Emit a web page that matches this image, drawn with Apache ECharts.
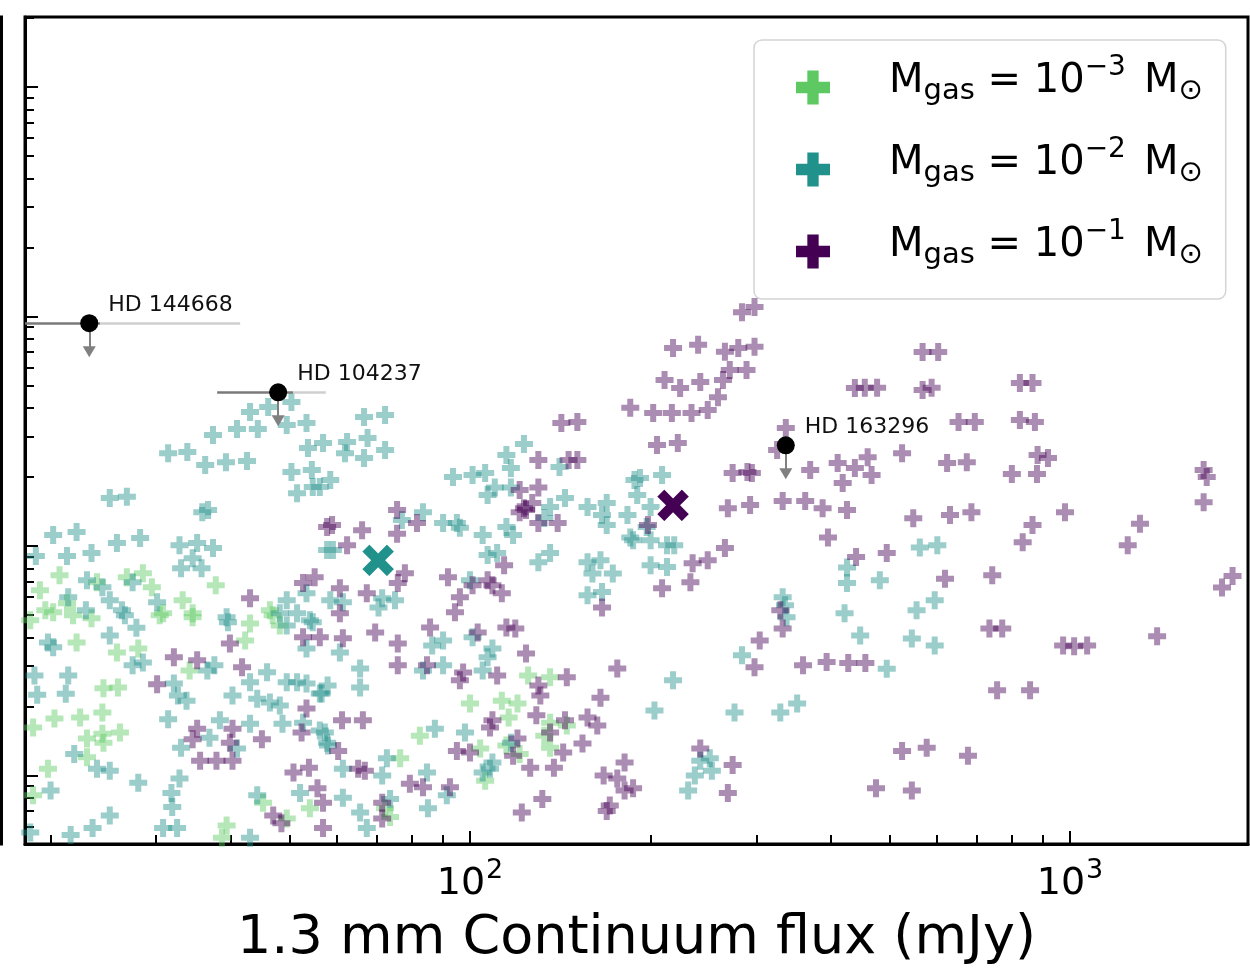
<!DOCTYPE html>
<html>
<head>
<meta charset="utf-8">
<title>Gas mass vs 1.3 mm continuum flux</title>
<script src="https://cdn.jsdelivr.net/npm/echarts@6/dist/echarts.min.js"></script>
<style>
  html, body { margin: 0; padding: 0; background: #fff; }
  #chart { width: 1250px; height: 974px; }
</style>
</head>
<body>
<div id="chart"></div>
<script>
// ---- data ----
const seriesNames = ['Mgas 1e-3', 'Mgas 1e-2', 'Mgas 1e-1'];
const legendExps = ['\u22123', '\u22122', '\u22121'];
const seriesColors = ['#5ec962', '#21918c', '#440154'];

const xMajorTicks = [100, 1000];
const xMinorTicks = [20, 30, 40, 50, 60, 70, 80, 90, 200, 300, 400, 500, 600, 700, 800, 900];
const yMajorTicks = [100, 1000, 10000, 100000];
const yMinorTicks = [60, 70, 80, 90, 200, 300, 400, 500, 600, 700, 800, 900,
  2000, 3000, 4000, 5000, 6000, 7000, 8000, 9000,
  20000, 30000, 40000, 50000, 60000, 70000, 80000, 90000, 200000];

// Mgas = 1e-3 Msun models  [flux mJy, y]
const greenPts = [
  [19.2,642],[23.9,696],[26.8,731],[28.5,761],[29.5,662],[21.3,563],[19.6,525],[30.8,509],[33.2,580],[34.5,509],
  [46.4,525],[20.2,515],[21.8,499],[23.4,485],[30.4,499],[34.5,490],[43.0,460],[46.9,499],[22.1,380],[25.8,344],
  [28.0,358],[34.1,287],[24.5,240],[25.9,242],[18.7,162],[20.3,177],[22.4,179],[24.4,188],[24.4,152],[26.1,154],
  [23.0,145],[24.5,139],[23.0,120],[19.8,107],[18.7,82],[39.3,60.5],[38.6,53.6],[45.2,76],[49.5,65],[54.1,72],
  [125,273],[136,268],[100,206],[113,212],[120,206],[116,179],[82.5,149],[136,170],[145,165],[104,131],
  [115,135],[136,132],[76.5,119],[106,95],[72.2,72],[73.6,66],[18.5,475],[48.2,451],[37.7,675],[20.7,746],
  [42.2,388],[121,124],[133,149]
];

// Mgas = 1e-2 Msun models
const tealPts = [
  [43.0,3840],[46.1,4036],[50.4,4240],[40.9,3236],[44.3,3236],[49.5,3369],[53.4,3440],[37.3,3047],[31.4,2540],[33.8,2570],
  [36.2,2254],[39.2,2320],[42.5,2345],[53.7,2675],[56.9,2810],[50.4,2100],[54.5,2144],[51.5,1700],[54.7,1810],[25.1,1620],
  [26.8,1640],[35.8,1405],[36.6,1434],[20.2,1116],[22.1,1150],[25.8,1030],[28.2,1083],[32.8,1009],[35.1,1030],[37.3,980],
  [34.5,885],[33.0,800],[35.7,800],[18.9,904],[21.3,904],[23.4,932],[57.8,960],
  [62.4,2840],[67.5,2960],[72.2,2621],[61.9,2540],[66.6,2420],[66.6,3650],[72.2,3725],[58.5,1939],[56.2,1810],
  [23.0,710],[24.4,662],[27.4,696],[21.4,598],[25.1,580],[22.9,525],[30.1,569],[26.3,525],[49.5,580],[48.2,509],
  [53.4,622],[51.5,509],[39.3,490],[25.1,408],[27.8,441],[26.6,499],[39.5,465],[49.5,451],[54.7,465],[20.2,362],
  [19.8,380],[28.5,311],[27.4,302],[37.5,302],[36.5,287],[45.9,282],[53.4,358],[54.1,475],[18.8,273],[21.4,273],
  [21.2,227],[19.0,225],[32.1,252],[33.7,212],[32.6,223],[40.2,223],[43.0,255],[44.2,216],[46.4,208],[49.5,255],
  [51.5,255],[53.4,252],[56.2,228],[48.2,202],[31.4,176],[38.3,174],[36.8,146],[43.0,168],[48.7,168],[52.7,170],
  [56.2,157],[57.8,139],[33.0,132],[40.9,131],[21.9,124],[23.9,107],[25.1,105],[20.0,86],[28.0,93],[32.8,97],
  [31.8,84],[31.9,73],[25.1,67],[23.5,59],[21.6,55],[18.5,56.5],[30.8,59],[32.5,59],[43.0,53.6],[44.2,82],[52.1,84],
  [123,2785],[115,2492],[141,2210],[93.7,2000],[101,2039],[106,2080],[117,2190],[107,1667],[110,1800],[117,1800],
  [144,1620],[136,1478],[133,1325],[157,1478],[169,1540],[166,1364],[183,1364],[169,1234],[187,1061],[188,1939],
  [83.5,1405],[77.0,1297],[90.2,1260],[95.1,1260],[96.2,1200],[105,1116],[115,1210],[118,1116],[59.1,960],[107,913],
  [111,932],[136,932],[130,850],[157,850],[165,868],[173,760],[160,760],[100,710],[157,610],[166,630],
  [61.4,569],[58.5,580],[71.4,592],[75.0,580],[70.4,540],[60.7,344],[86.5,369],[90.2,388],[101,400],[109,358],
  [107,328],[65.6,293],[83.5,287],[90.2,302],[105,287],[65.6,242],[57.9,247],[56.6,228],[87.4,160],[98.1,154],
  [57.3,154],[58.0,135],[117,139],[72.7,119],[109,114],[108,107],[105,103],[61.4,107],[71.4,100],[84.8,103],
  [91.5,82],[61.4,80],[65.6,69],[73.6,79],[67.3,59],[85.1,72],
  [192,1980],[209,2039],[190,1667],[200,1478],[197,1210],[185,1090],[200,1061],[213,1009],[219,1009],[200,825],[213,810],
  [335,552],[337,490],[421,509],[447,408],[545,395],[595,369],[555,525],[595,580],[425,807],[425,690],
  [482,710],[562,985],[601,1009],[332,598],[495,292],[284,334],[218,260],[203,192],[276,188],[329,188],
  [351,206],[242,116],[251,119],[237,100],[253,105],[231,86]
];

// Mgas = 1e-1 Msun models
const purplePts = [
  [43.0,592],[52.7,690],[55.1,731],[57.8,1210],[39.8,376],[32.1,328],[35.1,318],[41.7,296],[52.7,400],[56.2,400],
  [30.1,250],[35.1,160],[34.5,144],[40.2,160],[39.8,139],[45.0,144],[53.4,196],[52.4,154],[35.5,116],[37.8,116],
  [40.2,116],[50.8,103],[53.9,108],[47.0,67],[48.5,62],[55.7,88],[56.9,76],[56.9,59],
  [185,4000],[142,3440],[151,3475],[130,2370],[146,2370],[151,2370],[121,1754],[123,1460],[130,1800],[121,1405],
  [140,1260],[130,1260],[75.6,1434],[81.6,1260],[58.9,1234],[66.1,1173],[62.4,1009],[75.6,1130],[91.9,731],[114,825],
  [107,710],[101,675],[109,675],[113,622],[96.2,598],[166,540],[77.9,761],[75.8,690],[60.7,655],[67.3,622],
  [60.7,509],[94.4,515],[69.5,420],[61.4,396],[75.8,376],[85.8,442],[103,420],[115,442],[119,437],[124,340],
  [75.8,302],[84.8,302],[97.4,281],[96.2,260],[111,273],[145,268],[130,247],[131,223],[165,218],[176,293],
  [61.2,174],[66.3,174],[109,174],[108,162],[129,183],[144,174],[157,179],[163,165],[136,154],[60.3,128],
  [95.1,128],[100,126],[120,145],[118,122],[143,126],[154,138],[138,108],[126,108],[181,114],[167,100],
  [176,97],[187,88],[65.1,107],[66.8,105],[79.4,92],[83.5,89],[92.6,89],[71.4,76],[71.4,65],[132,79],
  [122,69],[169,70],
  [284,10440],[298,11000],[218,7300],[240,7530],[266,7020],[280,7300],[298,7380],[211,5295],[224,4880],[242,5190],
  [264,5295],[271,5855],[289,5855],[202,3800],[217,3800],[234,3800],[249,3917],[259,4450],[205,2756],[222,2810],
  [274,2080],[290,2100],[269,1460],[293,1508],[325,2621],[235,842],[249,868],[266,980],[209,655],[233,696],
  [198,1234],[127,1540],[124,1434],
  [568,7000],[603,7000],[438,4880],[455,4900],[477,4900],[568,4789],[588,4890],[825,5140],[866,5140],[825,3543],
  [874,3475],[652,3475],[694,3475],[336,3270],[525,2540],[369,2144],[410,2300],[438,2190],[460,2440],[467,2039],
  [418,1880],[624,2300],[673,2320],[800,2060],[881,2060],[883,2492],[919,2420],[295,2080],[1670,2144],[1690,2000],
  [1670,1550],[332,1570],[362,1570],[387,1460],[425,1434],[548,1320],[631,1364],[685,1405],[981,1405],[1308,1250],
  [1248,1009],[866,1234],[834,1040],[395,1090],[495,932],[440,895],[619,720],[742,746],[1866,740],[1792,660],
  [734,437],[771,437],[974,369],[1016,366],[1068,369],[1397,404],[756,235],[858,235],[525,128],[577,132],
  [676,122],[475,88],[545,86],[393,312],[427,309],[456,309],[359,302],[329,525],[332,437],[304,388],
  [242,131],[269,84],[171,74],[181,86],[274,111],[298,296]
];

// medians of the 1e-2 and 1e-1 model sets
const medianFlux = [70.3, 218];
const medianY = [866, 1504];
const medianColors = ['#21918c', '#440154'];

// observed sources (upper limits)
const hdNames = ['HD 144668', 'HD 104237', 'HD 163296'];
const hdFlux = [23.2, 47.9, 336];
const hdLimit = [9355, 4677, 2748];
const hdArrowEnd = [7026, 3512, 2064];
const hdErrLo = [18.13, 37.9, null];
const hdErrMid = [24.2, 50.7, null];
const hdErrHi = [41.4, 57.5, null];

const xTitle = '1.3 mm Continuum flux (mJy)';

// ---- chart ----
const FONT = 'DejaVu Sans';
const PLUS = 'path://M6,0H12V6H18V12H12V18H6V12H0V6H6Z';
const XMARK = 'path://M5,0L10,5L15,0L20,5L15,10L20,15L15,20L10,15L5,20L0,15L5,10L0,5Z';
const xMin = 18.13, xMax = 1980, yMin = 50.3, yMax = 202000;

const chart = echarts.init(document.getElementById('chart'));

const markData = [];
hdNames.forEach((n, i) => {
  if (hdErrLo[i] != null) {
    markData.push([{ coord: [hdErrLo[i], hdLimit[i]], symbol: 'none', lineStyle: { color: '#7a7a7a', width: 2.5, type: 'solid' } },
                   { coord: [hdErrMid[i], hdLimit[i]], symbol: 'none' }]);
    markData.push([{ coord: [hdErrMid[i], hdLimit[i]], symbol: 'none', lineStyle: { color: '#cfcfcf', width: 2.5, type: 'solid' } },
                   { coord: [hdErrHi[i], hdLimit[i]], symbol: 'none' }]);
  }
  markData.push([{ coord: [hdFlux[i], hdLimit[i]], symbol: 'none', lineStyle: { color: '#808080', width: 2, type: 'solid' } },
                 { coord: [hdFlux[i], hdArrowEnd[i]], symbol: 'triangle', symbolSize: [13, 11] }]);
});

const scatterSeries = [greenPts, tealPts, purplePts].map((pts, i) => ({
  name: seriesNames[i],
  type: 'scatter',
  data: pts,
  symbol: PLUS,
  symbolSize: 18,
  itemStyle: { color: seriesColors[i], opacity: 0.45 },
  z: 2 + i
}));

const option = {
  animation: false,
  backgroundColor: '#fff',
  grid: { left: 25, right: 2, top: 17, bottom: 130, show: true, borderColor: '#000', borderWidth: 3,
          containLabel: false, outerBoundsMode: 'none' },
  xAxis: [
    {
      type: 'log', logBase: 10, min: xMin, max: xMax, position: 'bottom',
      axisLine: { show: true, onZero: false, lineStyle: { color: '#000', width: 3 } },
      axisTick: { show: true, inside: true, length: 13, lineStyle: { color: '#000', width: 2 }, customValues: xMajorTicks },
      minorTick: { show: false },
      splitLine: { show: false },
      axisLabel: {
        customValues: xMajorTicks, margin: 20,
        formatter: v => '{b|10}{s|' + Math.round(Math.log10(v)) + '}',
        rich: {
          b: { fontFamily: FONT, fontSize: 38, color: '#000', lineHeight: 40 },
          s: { fontFamily: FONT, fontSize: 27, color: '#000', lineHeight: 40, padding: [0, 0, 26, 1] }
        }
      },
      name: xTitle, nameLocation: 'middle', nameGap: 68, nameMoveOverlap: false,
      nameTextStyle: { fontFamily: FONT, fontSize: 54, color: '#000' }
    },
    {
      type: 'log', logBase: 10, min: xMin, max: xMax, position: 'bottom',
      axisLine: { show: false },
      axisTick: { show: true, inside: true, length: 9, lineStyle: { color: '#000', width: 2 }, customValues: xMinorTicks },
      axisLabel: { show: false }, splitLine: { show: false }
    }
  ],
  yAxis: [
    {
      type: 'log', logBase: 10, min: yMin, max: yMax, position: 'left',
      axisLine: { show: true, onZero: false, lineStyle: { color: '#000', width: 3 } },
      axisTick: { show: true, inside: true, length: 13, lineStyle: { color: '#000', width: 2 }, customValues: yMajorTicks },
      axisLabel: { show: false }, splitLine: { show: false }
    },
    {
      type: 'log', logBase: 10, min: yMin, max: yMax, position: 'left',
      axisLine: { show: false },
      axisTick: { show: true, inside: true, length: 9, lineStyle: { color: '#000', width: 2 }, customValues: yMinorTicks },
      axisLabel: { show: false }, splitLine: { show: false }
    }
  ],
  legend: {
    left: 754, top: 40, orient: 'vertical',
    padding: [14, 23, 14, 42], itemGap: 15, itemWidth: 34, itemHeight: 34,
    icon: PLUS, selectedMode: false,
    borderColor: '#d4d4d4', borderWidth: 1.5, borderRadius: 8, backgroundColor: 'rgba(255,255,255,0.8)',
    itemStyle: { opacity: 1 },
    data: seriesNames.map((n, i) => ({ name: n, itemStyle: { color: seriesColors[i], opacity: 1 } })),
    formatter: name => {
      const i = seriesNames.indexOf(name);
      return '{m|M}{sub|gas}{eq| = 10}{sup|' + legendExps[i] + '}{m2|M}{sun|\u2299}';
    },
    textStyle: {
      fontFamily: FONT, color: '#000',
      rich: {
        m: { fontFamily: FONT, fontSize: 40, color: '#000', lineHeight: 67, padding: [0, 0, 12, 54] },
        sub: { fontFamily: FONT, fontSize: 29, color: '#000', lineHeight: 67, padding: [8, 0, 0, 0] },
        eq: { fontFamily: FONT, fontSize: 40, color: '#000', lineHeight: 67, padding: [0, 0, 12, 0] },
        sup: { fontFamily: FONT, fontSize: 28, color: '#000', lineHeight: 67, padding: [0, 0, 39, 0] },
        m2: { fontFamily: FONT, fontSize: 40, color: '#000', lineHeight: 67, padding: [0, 0, 12, 18] },
        sun: { fontFamily: FONT, fontSize: 29, color: '#000', lineHeight: 67, padding: [8, 0, 0, 0] }
      }
    }
  },
  graphic: [
    { type: 'line', shape: { x1: 1.5, y1: 15.5, x2: 1.5, y2: 845.5 }, style: { stroke: '#000', lineWidth: 3 }, silent: true }
  ],
  series: [
    ...scatterSeries,
    {
      type: 'scatter', data: [], z: 8, silent: true,
      markLine: { silent: true, animation: false, symbol: ['none', 'none'], label: { show: false },
                  lineStyle: { type: 'solid', color: '#808080' },
                  emphasis: { disabled: true }, data: markData }
    },
    {
      type: 'scatter', z: 9, silent: true,
      symbol: XMARK, symbolSize: 35,
      data: medianFlux.map((x, i) => ({ value: [x, medianY[i]], itemStyle: { color: medianColors[i] } })),
      itemStyle: { borderColor: '#fff', borderWidth: 2.5, opacity: 1 }
    },
    {
      type: 'scatter', z: 10, silent: true,
      symbol: 'circle', symbolSize: 18,
      itemStyle: { color: '#000', opacity: 1 },
      data: hdNames.map((n, i) => ({ name: n, value: [hdFlux[i], hdLimit[i]] })),
      label: {
        show: true, formatter: p => p.name, position: 'right', distance: 0, offset: [6, -18],
        fontFamily: FONT, fontSize: 22, color: '#111', opacity: 1,
        backgroundColor: 'rgba(255,255,255,0.7)', padding: [3, 4]
      }
    }
  ]
};

chart.setOption(option);
</script>
</body>
</html>
